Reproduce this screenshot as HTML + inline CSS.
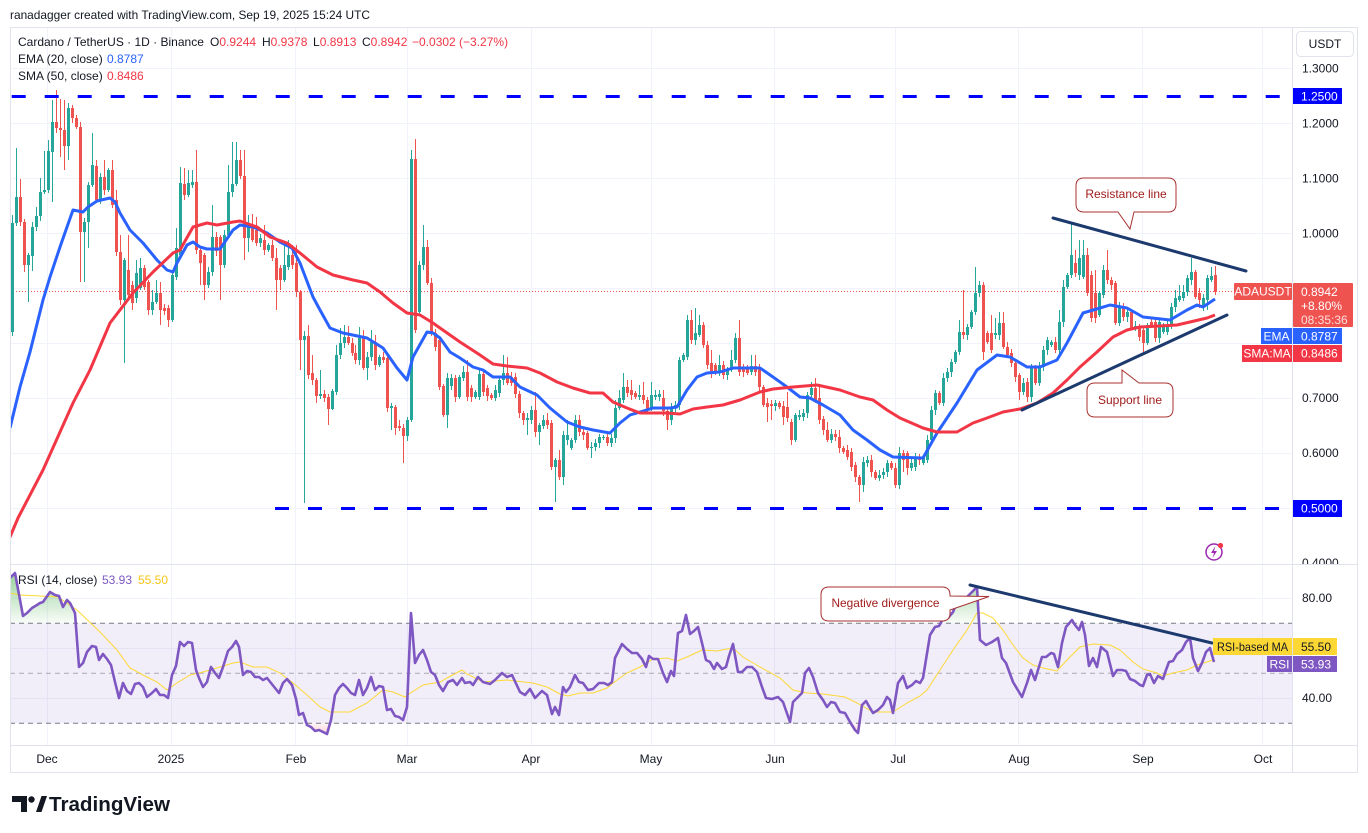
<!DOCTYPE html>
<html><head><meta charset="utf-8"><style>
html,body{margin:0;padding:0;background:#fff;}
body{width:1368px;height:833px;overflow:hidden;}
svg{display:block;font-family:"Liberation Sans",Arial,sans-serif;}
</style></head><body>
<svg id="s" width="1368" height="833" viewBox="0 0 1368 833" xmlns="http://www.w3.org/2000/svg">
<defs>
<clipPath id="cp"><rect x="10" y="28" width="1282" height="536"/></clipPath>
<clipPath id="cr"><rect x="10" y="565" width="1282" height="180"/></clipPath>
<clipPath id="cob"><rect x="10" y="565" width="1282" height="58.3"/></clipPath>
<clipPath id="cos"><rect x="10" y="723.3" width="1282" height="22"/></clipPath>
<clipPath id="cax"><rect x="1293" y="28" width="65" height="536"/></clipPath>
<linearGradient id="gg" gradientUnits="userSpaceOnUse" x1="0" y1="575" x2="0" y2="623"><stop offset="0" stop-color="#4caf50" stop-opacity="0.55"/><stop offset="1" stop-color="#4caf50" stop-opacity="0.04"/></linearGradient>
<linearGradient id="gr" gradientUnits="userSpaceOnUse" x1="0" y1="723" x2="0" y2="740"><stop offset="0" stop-color="#f23645" stop-opacity="0.04"/><stop offset="1" stop-color="#f23645" stop-opacity="0.35"/></linearGradient>
</defs>
<rect width="1368" height="833" fill="#fff"/>
<text x="10" y="19" font-size="12" fill="#131722" textLength="360" lengthAdjust="spacingAndGlyphs">ranadagger created with TradingView.com, Sep 19, 2025 15:24 UTC</text>

<g stroke="#f0f3fa" stroke-width="1">
<line x1="10" y1="68.5" x2="1292" y2="68.5"/><line x1="10" y1="123.5" x2="1292" y2="123.5"/><line x1="10" y1="178.5" x2="1292" y2="178.5"/><line x1="10" y1="233.5" x2="1292" y2="233.5"/><line x1="10" y1="288.5" x2="1292" y2="288.5"/><line x1="10" y1="343.5" x2="1292" y2="343.5"/><line x1="10" y1="398.5" x2="1292" y2="398.5"/><line x1="10" y1="453.5" x2="1292" y2="453.5"/><line x1="10" y1="508.5" x2="1292" y2="508.5"/>
<line x1="10" y1="598.5" x2="1292" y2="598.5"/><line x1="10" y1="648.5" x2="1292" y2="648.5"/><line x1="10" y1="698.5" x2="1292" y2="698.5"/>
<line x1="47.5" y1="28" x2="47.5" y2="745"/><line x1="171.5" y1="28" x2="171.5" y2="745"/><line x1="295.5" y1="28" x2="295.5" y2="745"/><line x1="407.5" y1="28" x2="407.5" y2="745"/><line x1="531.5" y1="28" x2="531.5" y2="745"/><line x1="651.5" y1="28" x2="651.5" y2="745"/><line x1="774.5" y1="28" x2="774.5" y2="745"/><line x1="895.5" y1="28" x2="895.5" y2="745"/><line x1="1018.5" y1="28" x2="1018.5" y2="745"/><line x1="1142.5" y1="28" x2="1142.5" y2="745"/><line x1="1262.5" y1="28" x2="1262.5" y2="745"/>
</g>

<g font-size="12" fill="#131722">
<text x="18" y="46">Cardano / TetherUS · 1D · Binance</text>
<text x="210" y="46">O<tspan fill="#f23645">0.9244</tspan></text>
<text x="262" y="46">H<tspan fill="#f23645">0.9378</tspan></text>
<text x="313" y="46">L<tspan fill="#f23645">0.8913</tspan></text>
<text x="362" y="46">C<tspan fill="#f23645">0.8942</tspan></text>
<text x="412" y="46" fill="#f23645">−0.0302 (−3.27%)</text>
<text x="18" y="63">EMA (20, close)</text><text x="107" y="63" fill="#2962ff">0.8787</text>
<text x="18" y="80">SMA (50, close)</text><text x="107" y="80" fill="#f23645">0.8486</text>
</g>

<g clip-path="url(#cp)">
<line x1="10" y1="291.5" x2="1292" y2="291.5" stroke="#ef5350" stroke-width="1" stroke-dasharray="1 2"/>
<g id="candles"></g>
<polyline fill="none" stroke="#2962ff" stroke-width="3" stroke-linejoin="round" points="10,428 20,387 30,352 43,300 50,277 60,247 67,227 73,210 83,212 88,207 97,201 110,198 115,202 120,213 130,230 143,243 157,260 167,270 173,272 177,263 187,245 193,242 200,247 207,249 220,249 233,230 240,225 253,227 267,233 280,242 292,248 300,263 313,297 320,310 330,328 343,333 367,338 383,348 397,368 407,380 413,357 427,332 433,333 440,338 450,352 460,358 473,367 483,370 493,377 510,377 520,387 537,395 550,408 567,422 580,427 593,430 610,433 620,423 630,415 640,412 653,408 670,408 677,407 687,390 697,377 707,373 720,372 733,368 760,368 773,377 787,387 800,397 810,398 823,405 840,415 853,430 867,440 880,450 893,457 923,458 937,433 957,403 977,370 997,355 1010,357 1027,367 1040,367 1057,360 1067,343 1083,313 1100,308 1110,305 1127,308 1143,317 1170,320 1187,310 1197,305 1203,307 1215,299"/>
<polyline fill="none" stroke="#f23645" stroke-width="3" stroke-linejoin="round" points="10,537 18,518 43,470 73,403 90,370 110,323 133,293 153,272 173,253 180,250 193,227 207,223 217,225 233,222 240,221 257,227 270,237 287,243 300,253 317,267 333,275 353,280 367,283 380,292 393,303 407,313 420,315 433,323 440,328 460,342 480,355 493,364 507,366 527,368 540,373 557,382 573,388 590,393 603,393 613,402 627,408 640,413 667,413 680,414 693,409 707,407 723,405 740,400 760,392 773,389 793,387 817,385 840,390 860,397 873,400 887,410 900,418 923,428 937,432 957,432 973,423 987,418 1003,412 1020,409 1037,403 1053,393 1067,380 1080,367 1097,352 1113,337 1127,330 1140,327 1177,325 1190,322 1207,318 1215,315"/>
<line x1="10" y1="96.5" x2="1292" y2="96.5" stroke="#0000ff" stroke-width="3" stroke-dasharray="14 19" stroke-dashoffset="-1.7"/>
<line x1="275" y1="508.5" x2="1292" y2="508.5" stroke="#0000ff" stroke-width="3" stroke-dasharray="14 19"/>
<line x1="1053" y1="218" x2="1246" y2="271" stroke="#1d3a6e" stroke-width="3" stroke-linecap="round"/>
<line x1="1022" y1="410" x2="1227" y2="315" stroke="#1d3a6e" stroke-width="3" stroke-linecap="round"/>
<path d="M1084,178 H1168 Q1176,178 1176,186 V204 Q1176,212 1168,212 H1134 L1130,229 L1118,212 H1084 Q1076,212 1076,204 V186 Q1076,178 1084,178 Z" fill="#fff" stroke="#a83232" stroke-width="1"/>
<text x="1126" y="198" font-size="12" fill="#a01c1c" text-anchor="middle">Resistance line</text>
<path d="M1095,383 H1122 L1122,370 L1139,383 H1165 Q1173,383 1173,391 V409 Q1173,417 1165,417 H1095 Q1087,417 1087,409 V391 Q1087,383 1095,383 Z" fill="#fff" stroke="#a83232" stroke-width="1"/>
<text x="1130" y="404" font-size="12" fill="#a01c1c" text-anchor="middle">Support line</text>
<circle cx="1214" cy="552" r="8" fill="none" stroke="#9c27b0" stroke-width="1.5"/>
<path d="M1215.5,546 L1211,553 L1214,553 L1212.5,558 L1217,551 L1214,551 Z" fill="#9c27b0"/>
<circle cx="1220.5" cy="545.5" r="2.6" fill="#f23645"/>
</g>

<g clip-path="url(#cr)">
<rect x="10" y="623.3" width="1282" height="100" fill="#7e57c2" fill-opacity="0.1"/>
<g stroke="#787b86" stroke-width="1" stroke-dasharray="5 4">
<line x1="10" y1="623.3" x2="1292" y2="623.3"/><line x1="10" y1="673.3" x2="1292" y2="673.3" stroke-opacity="0.6"/><line x1="10" y1="723.3" x2="1292" y2="723.3"/>
</g>
<polygon id="fob" clip-path="url(#cob)" fill="url(#gg)" points=""/>
<polygon id="fos" clip-path="url(#cos)" fill="url(#gr)" points=""/>
<polyline fill="none" stroke="#fdd835" stroke-width="1" points="10,593 20,595 40,596 58,597 77,610 100,632 117,650 130,668 143,675 157,682 167,690 177,683 190,675 203,672 220,667 233,663 240,662 253,667 267,667 280,673 293,683 307,695 320,707 330,712 350,712 367,703 383,690 393,692 405,697 412,692 423,685 440,682 447,678 462,670 467,674 483,682 507,680 533,683 547,687 560,694 568,696 580,693 593,693 607,688 617,680 627,673 640,667 653,659 667,658 677,661 687,657 702,650 717,651 727,649 733,648 743,657 760,667 780,678 793,690 807,693 823,694 845,697 857,703 873,712 893,712 907,703 920,696 927,690 940,670 953,650 967,630 977,613 983,613 993,618 1003,630 1013,645 1023,658 1033,665 1043,668 1057,671 1067,660 1080,647 1093,644 1110,645 1120,650 1133,662 1143,669 1157,673 1163,676 1173,673 1187,670 1197,665 1210,661 1214,659"/>
<polyline id="rsi" fill="none" stroke="#7e57c2" stroke-width="2.6" stroke-linejoin="round" points="10,578 15,573 23,616 27,613 32,608 37,605 40,603 43,602 50,592 55,595 59,596 63,607 67,600 70,603 75,613 79,667 83,663 87,652 92,646 96,647 99,660 103,654 107,659 111,665 115,682 119,698 123,683 127,691 131,694 135,684 139,683 143,687 147,697 152,693 156,689 160,695 164,695 168,698 172,675 176,666 180,642 184,646 188,642 192,643 196,670 199,678 203,687 207,682 211,667 215,673 219,678 223,667 228,651 232,647 236,641 239,647 243,675 247,671 251,672 255,677 259,677 263,680 267,678 271,683 275,688 279,693 283,683 287,679 292,685 296,699 299,715 303,713 307,725 311,727 315,731 319,730 323,732 327,734 331,720 335,695 339,688 343,684 347,688 351,693 355,695 359,680 363,695 367,688 371,677 375,690 379,686 383,687 387,710 391,709 395,716 399,717 403,720 407,707 411,613 415,663 419,655 423,650 427,660 431,672 435,675 439,685 443,691 448,682 453,680 457,685 462,678 465,683 470,682 473,685 478,677 483,682 490,684 495,680 502,673 507,677 512,675 520,692 525,695 530,689 535,698 542,691 547,695 552,714 555,707 559,715 563,687 566,692 570,687 575,675 579,682 583,683 588,690 593,689 599,683 604,683 608,685 612,682 615,658 622,644 627,649 632,653 637,653 642,659 646,667 649,656 653,659 658,659 663,673 667,682 671,671 674,676 678,633 682,631 686,615 690,634 694,631 698,627 702,643 706,660 710,662 714,669 717,663 722,669 726,667 729,656 733,644 738,672 742,672 747,667 752,667 757,672 762,687 766,698 772,699 778,697 783,702 790,722 793,702 797,698 802,693 805,673 809,668 813,677 818,693 823,700 827,707 831,702 835,703 840,712 845,713 850,722 855,730 858,733 862,705 866,701 870,708 873,713 878,710 883,705 887,697 890,700 893,713 898,683 903,676 907,688 912,685 916,681 920,683 923,678 930,635 935,627 939,626 943,619 948,618 953,612 958,599 962,603 966,598 970,594 975,589 977,587 980,640 986,645 992,642 998,638 1002,658 1006,663 1013,682 1022,697 1027,683 1031,670 1035,680 1038,670 1042,657 1046,657 1051,653 1054,654 1058,667 1062,643 1066,627 1072,620 1075,625 1079,630 1082,622 1085,635 1089,666 1093,658 1097,667 1101,647 1107,652 1110,664 1113,676 1117,670 1122,670 1126,671 1130,679 1135,681 1140,685 1143,686 1147,675 1150,674 1154,683 1158,676 1163,679 1166,670 1169,662 1173,661 1177,654 1182,650 1186,642 1190,638 1193,658 1198,671 1202,663 1206,652 1210,648 1214,662"/>
<line x1="970" y1="585" x2="1212" y2="643" stroke="#1d3a6e" stroke-width="3" stroke-linecap="round"/>
<path d="M829,587 H942 Q950,587 950,595 V596 L989,596.5 L950,610 V613 Q950,621 942,621 H829 Q821,621 821,613 V595 Q821,587 829,587 Z" fill="#fff" stroke="#a83232" stroke-width="1"/>
<text x="831.5" y="607" font-size="12" fill="#a01c1c" textLength="108" lengthAdjust="spacingAndGlyphs">Negative divergence</text>
</g>
<text x="18" y="584" font-size="12" fill="#131722">RSI (14, close)</text>
<text x="102" y="584" font-size="12" fill="#7e57c2">53.93</text>
<text x="138" y="584" font-size="12" fill="#f5c518">55.50</text>

<g stroke="#e0e3eb" stroke-width="1" fill="none">
<rect x="10.5" y="27.5" width="1347" height="745"/>
<line x1="1292.5" y1="27.5" x2="1292.5" y2="772.5"/>
<line x1="10" y1="564.5" x2="1358" y2="564.5"/>
<line x1="10" y1="745.5" x2="1358" y2="745.5"/>
</g>

<rect x="1296.5" y="31.5" width="57" height="25" rx="4" fill="#fff" stroke="#e0e3eb"/>
<text x="1325" y="48" font-size="12" fill="#131722" text-anchor="middle">USDT</text>
<g font-size="12" fill="#131722" clip-path="url(#cax)">
<text x="1302" y="72.5">1.3000</text><text x="1302" y="127.5">1.2000</text><text x="1302" y="182.5">1.1000</text><text x="1302" y="237.5">1.0000</text><text x="1302" y="402">0.7000</text><text x="1302" y="457">0.6000</text><text x="1302" y="567">0.4000</text>
</g>
<text x="1302" y="602" font-size="12" fill="#131722">80.00</text>
<text x="1302" y="702" font-size="12" fill="#131722">40.00</text>
<g font-size="12" fill="#fff">
<rect x="1293" y="88" width="49" height="16" fill="#0000ff"/><text x="1301" y="100.5">1.2500</text>
<rect x="1293" y="500" width="49" height="17" fill="#0000ff"/><text x="1301" y="512.5">0.5000</text>
<rect x="1234" y="283" width="58" height="17" rx="1" fill="#ef5350"/><text x="1263" y="295.5" text-anchor="middle">ADAUSDT</text>
<rect x="1293" y="283" width="60" height="44" rx="1" fill="#ef5350"/><text x="1301" y="296">0.8942</text><text x="1301" y="310">+8.80%</text><text x="1301" y="324" fill-opacity="0.8">08:35:36</text>
<rect x="1261" y="328" width="31" height="16" fill="#2962ff"/><text x="1276.5" y="340.5" text-anchor="middle">EMA</text>
<rect x="1293" y="328" width="49" height="16" fill="#2962ff"/><text x="1301" y="340.5">0.8787</text>
<rect x="1242" y="345" width="50" height="17" fill="#f23645"/><text x="1267" y="357.5" text-anchor="middle">SMA:MA</text>
<rect x="1293" y="345" width="49" height="17" fill="#f23645"/><text x="1301" y="357.5">0.8486</text>
<rect x="1213" y="638" width="79" height="17" fill="#fdd835"/><text x="1217" y="651" fill="#131722" textLength="71" lengthAdjust="spacingAndGlyphs">RSI-based MA</text>
<rect x="1293" y="638" width="44" height="17" fill="#fdd835"/><text x="1301" y="651" fill="#131722">55.50</text>
<rect x="1267" y="656" width="25" height="16" fill="#7e57c2"/><text x="1279.5" y="668.5" text-anchor="middle">RSI</text>
<rect x="1293" y="656" width="44" height="16" fill="#7e57c2"/><text x="1301" y="668.5">53.93</text>
</g>

<g font-size="12" fill="#131722" text-anchor="middle">
<text x="47" y="763">Dec</text><text x="171" y="763">2025</text><text x="296" y="763">Feb</text><text x="407" y="763">Mar</text><text x="531" y="763">Apr</text><text x="651" y="763">May</text><text x="775" y="763">Jun</text><text x="898" y="763">Jul</text><text x="1019" y="763">Aug</text><text x="1143" y="763">Sep</text><text x="1263" y="763">Oct</text>
</g>

<g fill="#131722">
<path d="M12,796 H27 V812 H21 V802 H12 Z"/>
<circle cx="31.5" cy="799.5" r="3.2"/>
<path d="M36,812 L41.5,796 H47 L41.5,812 Z"/>
<text x="49" y="811" font-size="20" font-weight="bold" textLength="121" lengthAdjust="spacingAndGlyphs">TradingView</text>
</g>
</svg>
<script>
(function(){
var D=[[332,223,215,336],[223,197,148,0],[197,222,179,0],[222,265,0,272],[265,255,0,302],[256,227,0,271],[227,216,207,0],[216,192,178,0],[192,190,151,0],[190,151,140,0],
[152,122,100,202],[122,128,90,0],[128,130,99,157],[130,146,100,170],[146,108,103,160],[108,118,105,0],[118,127,115,0],[127,232,0,282],[232,222,0,282],[222,185,0,248],
[185,165,133,0],[166,200,160,0],[200,177,0,0],[177,190,160,0],[190,170,0,0],[170,205,160,0],[200,252,190,0],[252,300,235,0],[300,260,0,363],[270,295,235,0],
[285,303,0,310],[298,273,260,0],[288,268,258,0],[268,287,265,0],[282,310,280,315],[310,302,290,0],[302,293,280,0],[293,310,282,325],[308,311,0,0],[308,320,0,327],
[320,275,0,322],[277,248,228,0],[255,183,167,0],[184,195,168,0],[195,183,170,0],[185,182,170,0],[182,250,150,0],[250,263,0,285],[255,285,0,300],[285,272,0,0],
[272,237,205,0],[237,251,232,0],[237,265,0,300],[265,235,0,0],[235,192,165,0],[192,184,142,0],[184,160,142,0],[160,176,150,0],[176,238,150,260],[238,226,215,252],
[227,240,214,0],[230,243,217,0],[243,238,0,0],[240,250,225,0],[250,245,0,0],[245,258,240,0],[258,280,248,310],[268,280,0,290],[280,265,245,0],[267,255,240,0],
[255,265,245,0],[263,292,245,0],[292,340,0,370],[340,336,0,503],[336,375,325,0],[373,380,355,0],[380,396,0,403],[396,394,370,0],[394,398,0,0],[397,409,0,425],
[409,391,0,410],[392,355,345,0],[355,343,328,0],[343,337,325,0],[337,343,326,0],[343,353,0,0],[353,360,345,0],[360,338,327,0],[338,368,330,0],[368,357,0,380],
[357,342,330,0],[342,365,335,0],[365,357,0,0],[357,360,0,0],[358,408,355,0],[408,406,0,430],[407,428,0,435],[426,428,420,0],[428,436,0,463],[436,420,0,0],
[420,159,150,0],[159,330,139,0],[312,265,0,0],[265,247,225,0],[247,283,240,0],[283,333,0,0],[333,347,0,0],[340,387,0,390],[386,415,0,0],[415,378,0,428],
[386,378,0,0],[378,397,0,0],[397,377,0,0],[378,372,366,0],[372,397,360,0],[388,397,0,0],[397,392,0,0],[397,374,370,0],[374,392,0,0],[388,396,0,0],
[395,398,0,0],[398,390,0,0],[393,380,0,0],[380,373,355,0],[373,383,357,0],[377,383,0,0],[377,394,0,0],[394,413,0,0],[413,420,0,425],[420,418,0,435],
[420,410,0,0],[410,432,392,0],[432,425,0,445],[426,420,415,0],[420,425,413,0],[423,467,0,470],[467,460,0,502],[460,477,450,0],[477,435,0,485],[440,435,420,0],
[448,440,0,0],[440,420,415,0],[420,432,415,0],[432,435,0,440],[433,448,0,0],[448,447,0,458],[447,443,0,0],[443,437,0,0],[438,437,0,0],[437,443,0,0],
[443,438,0,0],[438,408,400,0],[408,398,390,0],[400,387,373,0],[387,393,380,0],[390,395,380,0],[393,397,0,0],[397,395,385,0],[395,400,382,0],[400,409,0,0],
[409,395,382,0],[397,395,0,0],[397,394,0,0],[398,411,390,0],[411,420,0,430],[420,408,0,425],[408,405,0,0],[405,360,0,0],[360,355,0,0],[357,320,315,0],
[320,340,310,0],[340,333,308,0],[335,325,315,0],[325,345,322,0],[345,365,0,0],[363,373,350,0],[365,373,0,0],[373,365,355,0],[365,375,0,0],[375,370,0,0],
[370,360,350,0],[360,338,333,0],[338,372,320,0],[367,372,0,0],[367,373,0,0],[372,366,355,0],[366,372,355,0],[367,387,0,0],[387,405,0,0],[403,407,0,422],
[404,406,0,420],[406,403,0,0],[403,407,0,0],[406,417,0,425],[407,418,392,0],[422,440,0,0],[440,415,0,0],[417,415,0,0],[417,413,0,0],[413,395,0,0],
[395,388,382,0],[388,400,378,0],[398,420,385,0],[419,430,0,0],[430,440,422,0],[440,434,0,0],[434,437,0,0],[437,448,430,0],[448,452,0,0],[450,457,0,0],
[452,467,0,0],[465,477,0,0],[477,485,0,502],[485,462,0,492],[463,460,0,0],[460,472,455,0],[472,478,0,0],[478,475,0,0],[475,472,0,0],[472,463,0,0],
[463,468,0,0],[468,485,0,0],[485,453,447,0],[453,460,0,472],[453,468,0,475],[468,463,0,0],[467,457,0,0],[457,460,0,0],[463,457,0,0],[460,440,0,0],
[440,410,0,0],[410,393,0,0],[393,403,0,0],[403,378,0,0],[378,372,0,0],[372,362,0,0],[362,352,0,0],[352,332,320,0],[332,335,290,0],[335,327,0,0],
[327,312,0,0],[312,293,267,0],[293,285,0,0],[285,352,0,360],[333,342,0,0],[333,350,315,0],[335,333,318,0],[335,323,312,0],[323,347,312,0],[347,355,0,0],
[353,363,0,0],[363,377,0,0],[375,392,0,400],[392,383,0,0],[382,397,0,402],[397,367,0,0],[367,383,0,0],[383,367,0,0],[367,350,0,0],[350,340,0,0],
[345,342,0,0],[342,350,0,0],[350,322,310,0],[322,287,280,0],[287,275,0,0],[275,255,222,0],[263,273,250,0],[275,258,240,0],[277,255,240,0],[255,293,248,0],
[275,318,0,0],[293,318,270,0],[315,293,0,0],[295,270,265,0],[270,280,250,0],[280,285,0,0],[283,323,0,0],[323,307,0,0],[307,317,0,0],[317,312,0,0],
[312,328,0,0],[328,326,0,0],[328,337,0,0],[330,343,0,352],[343,325,0,0],[322,325,0,0],[322,338,0,0],[338,322,0,0],[332,325,0,0],[332,325,0,0],
[325,307,0,0],[307,298,290,0],[300,296,285,0],[298,292,285,0],[292,278,275,0],[280,272,258,0],[272,297,270,0],[293,300,0,308],[307,298,0,0],[300,278,0,310],
[280,276,267,0],[275,292,266,0]];
var NS="http://www.w3.org/2000/svg";
var g=document.getElementById("candles");
var n=D.length, step=(1215-11.7)/(n-1);
for(var i=0;i<n;i++){
 var d=D[i],o=d[0],c=d[1],h=d[2],l=d[3];
 var top=Math.min(o,c),bot=Math.max(o,c);
 var w=2+((i*7)%4);
 if(!h)h=top-w; if(!l)l=bot+(2+((i*5)%4));
 var col=(c<=o)?"#26a69a":"#ef5350";
 var xc=Math.round(11.7+i*step);
 var ln=document.createElementNS(NS,"line");
 ln.setAttribute("x1",xc+0.5);ln.setAttribute("x2",xc+0.5);
 ln.setAttribute("y1",h);ln.setAttribute("y2",l);
 ln.setAttribute("stroke",col);ln.setAttribute("stroke-width","1");
 g.appendChild(ln);
 var r=document.createElementNS(NS,"rect");
 r.setAttribute("x",xc-1);r.setAttribute("y",top);
 r.setAttribute("width",3);r.setAttribute("height",Math.max(1,bot-top));
 r.setAttribute("fill",col);
 g.appendChild(r);
}
var pts=document.getElementById("rsi").getAttribute("points");
document.getElementById("fob").setAttribute("points",pts+" 1214,623.3 10,623.3");
document.getElementById("fos").setAttribute("points",pts+" 1214,723.3 10,723.3");
})();
</script>
</body></html>
